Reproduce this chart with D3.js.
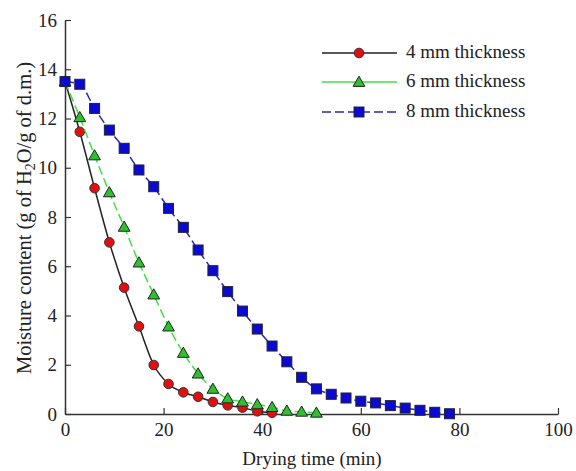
<!DOCTYPE html>
<html><head><meta charset="utf-8">
<script src="https://cdn.jsdelivr.net/npm/d3@7"></script>
<style>body{margin:0;background:#fff}svg{display:block}text{font-family:"Liberation Serif","Times New Roman",serif;fill:#222}</style>
</head><body>
<script>
const time4 = [0,3,6,9,12,15,18,21,24,27,30,33,36,39,42];
const moist4 = [13.5,11.46,9.17,6.97,5.13,3.56,1.99,1.22,0.88,0.70,0.49,0.35,0.26,0.11,0.05];
const time6 = [0,3,6,9,12,15,18,21,24,27,30,33,36,39,42,45,48,51];
const moist6 = [13.5,12.05,10.5,9.0,7.6,6.15,4.85,3.55,2.48,1.64,1.02,0.63,0.5,0.39,0.28,0.13,0.09,0.05];
const time8 = [0,3,6,9,12,15,18,21,24,27,30,33,36,39,42,45,48,51,54,57,60,63,66,69,72,75,78];
const moist8 = [13.5,13.39,12.41,11.53,10.79,9.91,9.23,8.35,7.58,6.66,5.82,4.97,4.18,3.45,2.76,2.12,1.49,1.02,0.80,0.65,0.52,0.45,0.34,0.24,0.15,0.07,0.01];
const seriesNames = ["4 mm thickness","6 mm thickness","8 mm thickness"];
const xTicks = [0,20,40,60,80,100];
const yTicks = [0,2,4,6,8,10,12,14,16];

const W=576,H=471,FS=19;
const svg=d3.select("body").append("svg").attr("width",W).attr("height",H);
const x=d3.scaleLinear().domain([0,100]).range([65,558]);
const y=d3.scaleLinear().domain([0,16]).range([414,20]);

// axes
const xAxis=d3.axisBottom(x).tickValues(xTicks).tickSizeInner(-6).tickSizeOuter(0).tickPadding(9);
const gx=svg.append("g").attr("transform","translate(0,414)").call(xAxis);
const yAxis=d3.axisLeft(y).tickValues(yTicks).tickSizeInner(-6).tickSizeOuter(0).tickPadding(8);
const gy=svg.append("g").attr("transform","translate(65,0)").call(yAxis);
[gx,gy].forEach(g=>{
  g.select(".domain").attr("stroke","#333").attr("stroke-width",1.5);
  g.selectAll(".tick line").attr("stroke","#333").attr("stroke-width",1.2);
  g.selectAll(".tick text").attr("font-size",FS).attr("font-family","Liberation Serif").attr("fill","#222");
});

svg.append("text").attr("x",312).attr("y",465).attr("text-anchor","middle").attr("font-size",FS).text("Drying time (min)");
const yl=svg.append("text").attr("transform","translate(31,218) rotate(-90)").attr("text-anchor","middle").attr("font-size",20.5);
yl.append("tspan").text("Moisture content (g of H");
yl.append("tspan").attr("font-size",14).attr("dy",4).text("2");
yl.append("tspan").attr("dy",-4).text("O/g of d.m.)");

const line=d3.line().x(d=>x(d[0])).y(d=>y(d[1])).curve(d3.curveMonotoneX);
const series=[
  {t:time4,v:moist4,stroke:"#222",dash:null,fill:"#e01010",shape:"circle"},
  {t:time6,v:moist6,stroke:"#44dd44",dash:"9,4",fill:"#2ec02e",shape:"triangle"},
  {t:time8,v:moist8,stroke:"#2a2aaa",dash:"9,4",fill:"#0a0ad0",shape:"square"}
];
function marker(g,shape,fill,px,py){
  if(shape==="circle") g.append("circle").attr("cx",px).attr("cy",py).attr("r",4.8).attr("fill",fill).attr("stroke","#333").attr("stroke-width",1);
  else if(shape==="square") g.append("rect").attr("x",px-5).attr("y",py-5).attr("width",10).attr("height",10).attr("fill",fill).attr("stroke","#223").attr("stroke-width",1);
  else g.append("path").attr("d",d3.symbol(d3.symbolTriangle,60)()).attr("transform",`translate(${px},${py+1})`).attr("fill",fill).attr("stroke","#222").attr("stroke-width",1);
}
[0,1,2].forEach(i=>{
  const s=series[i];
  const data=s.t.map((t,j)=>[t,s.v[j]]);
  svg.append("path").datum(data).attr("d",line).attr("fill","none").attr("stroke",s.stroke).attr("stroke-width",1.5).attr("stroke-dasharray",s.dash);
  const g=svg.append("g");
  data.forEach(d=>marker(g,s.shape,s.fill,x(d[0]),y(d[1])));
});

// legend
const legY=[53,82,112];
series.forEach((s,i)=>{
  const g=svg.append("g");
  g.append("line").attr("x1",322).attr("x2",397).attr("y1",legY[i]).attr("y2",legY[i]).attr("stroke",s.stroke).attr("stroke-width",1.5).attr("stroke-dasharray",i===2?"9,4":null);
  marker(g,s.shape,s.fill,359,legY[i]);
  g.append("text").attr("x",406).attr("y",legY[i]+5).attr("font-size",FS).text(seriesNames[i]);
});
</script>
</body></html>
